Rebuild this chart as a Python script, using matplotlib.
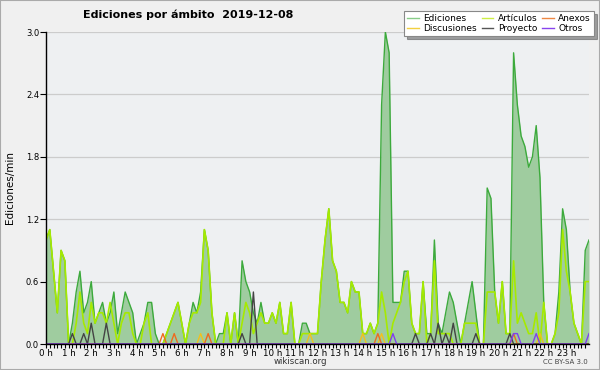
import numpy as np
import matplotlib
matplotlib.use("Agg")
import matplotlib.pyplot as plt
from matplotlib.lines import Line2D
from matplotlib.patches import Rectangle

# valores cada 10 minutos (ediciones/min), de 0 h a 24 h
ediciones = [1.0, 1.1, 0.7, 0.3, 0.9, 0.8, 0.0, 0.2, 0.5, 0.7, 0.3, 0.4,
             0.6, 0.2, 0.3, 0.4, 0.2, 0.3, 0.5, 0.1, 0.3, 0.5, 0.4, 0.3,
             0.0, 0.1, 0.2, 0.4, 0.4, 0.1, 0.0, 0.0, 0.1, 0.2, 0.3, 0.4,
             0.2, 0.0, 0.2, 0.4, 0.3, 0.5, 1.1, 0.9, 0.3, 0.0, 0.1, 0.1,
             0.3, 0.0, 0.3, 0.0, 0.8, 0.6, 0.5, 0.3, 0.2, 0.4, 0.2, 0.2,
             0.3, 0.2, 0.4, 0.1, 0.1, 0.4, 0.0, 0.0, 0.2, 0.2, 0.1, 0.1,
             0.1, 0.6, 1.0, 1.3, 0.8, 0.7, 0.4, 0.4, 0.3, 0.6, 0.5, 0.5,
             0.1, 0.1, 0.2, 0.1, 0.2, 2.3, 3.0, 2.8, 0.4, 0.4, 0.4, 0.7,
             0.7, 0.2, 0.1, 0.1, 0.6, 0.1, 0.1, 1.0, 0.2, 0.1, 0.3, 0.5,
             0.4, 0.2, 0.0, 0.2, 0.4, 0.6, 0.3, 0.0, 0.0, 1.5, 1.4, 0.5,
             0.2, 0.6, 0.1, 0.1, 2.8, 2.3, 2.0, 1.9, 1.7, 1.8, 2.1, 1.6,
             0.4, 0.0, 0.0, 0.1, 0.5, 1.3, 1.1, 0.5, 0.2, 0.1, 0.0, 0.9,
             1.0]
articulos = [1.0, 1.1, 0.7, 0.3, 0.9, 0.8, 0.0, 0.0, 0.2, 0.5, 0.2, 0.1,
             0.4, 0.2, 0.3, 0.3, 0.2, 0.4, 0.2, 0.0, 0.2, 0.3, 0.3, 0.1,
             0.0, 0.0, 0.2, 0.3, 0.0, 0.0, 0.0, 0.0, 0.1, 0.2, 0.3, 0.4,
             0.2, 0.0, 0.2, 0.3, 0.3, 0.4, 1.1, 0.9, 0.3, 0.0, 0.0, 0.0,
             0.3, 0.0, 0.3, 0.0, 0.2, 0.4, 0.3, 0.1, 0.2, 0.3, 0.2, 0.2,
             0.3, 0.2, 0.4, 0.1, 0.1, 0.4, 0.0, 0.0, 0.1, 0.1, 0.1, 0.1,
             0.1, 0.6, 1.0, 1.3, 0.8, 0.7, 0.4, 0.4, 0.3, 0.6, 0.5, 0.5,
             0.1, 0.1, 0.2, 0.1, 0.2, 0.5, 0.3, 0.0, 0.2, 0.3, 0.4, 0.6,
             0.7, 0.2, 0.1, 0.1, 0.6, 0.0, 0.1, 0.8, 0.1, 0.1, 0.1, 0.1,
             0.0, 0.0, 0.0, 0.2, 0.2, 0.2, 0.2, 0.0, 0.0, 0.5, 0.5, 0.5,
             0.2, 0.6, 0.1, 0.1, 0.8, 0.2, 0.3, 0.2, 0.1, 0.1, 0.3, 0.0,
             0.4, 0.0, 0.0, 0.1, 0.3, 1.1, 0.7, 0.5, 0.2, 0.1, 0.0, 0.6,
             0.6]

# series pequeñas: (intervalo, valor), el resto es cero
discusiones = [(41, 0.1), (70, 0.1), (84, 0.1), (89, 0.1), (131, 0.1)]
anexos = [(31, 0.1), (34, 0.1), (43, 0.1), (88, 0.1), (124, 0.1)]
proyecto = [(7, 0.1), (10, 0.1), (12, 0.2), (16, 0.2), (52, 0.1), (55, 0.5),
            (98, 0.1), (102, 0.1), (104, 0.2), (106, 0.1), (108, 0.2),
            (114, 0.1), (123, 0.1)]
otros = [(92, 0.1), (124, 0.1), (125, 0.1), (130, 0.1), (144, 0.1)]

horas = [f"{h} h" for h in range(24)]

n = len(ediciones)
x = np.arange(n) / 6.0


def serie(pares):
    s = np.zeros(n)
    for i, v in pares:
        s[i] = v
    return s


fig = plt.figure(figsize=(6, 3.7), dpi=100, facecolor="#f0f0f0")
ax = fig.add_axes([46 / 600, 26 / 370, 543 / 600, 312 / 370])
ax.set_facecolor("#eef0f2")

ax.fill_between(x, ediciones, color="#9fcc9f", lw=0, zorder=2)
ax.plot(x, ediciones, color="#3caa3c", lw=1.0, zorder=3)
ax.plot(x, articulos, color="#a6ea00", lw=1.2, zorder=4)
ax.plot(x, serie(discusiones), color="#f2c01e", lw=1.0, zorder=5)
ax.plot(x, serie(anexos), color="#ee6a1e", lw=1.0, zorder=5)
ax.plot(x, serie(proyecto), color="#444444", lw=1.0, zorder=5)
ax.plot(x, serie(otros), color="#8040ee", lw=1.0, zorder=5)

ax.set_xlim(0, 24)
ax.set_ylim(0, 3.0)
ax.set_yticks(np.arange(0, 3.01, 0.6))
ax.set_yticklabels([f"{v:.1f}" for v in np.arange(0, 3.01, 0.6)], fontsize=6)
ax.yaxis.grid(True, color="#cccccc", lw=0.9, zorder=1)
ax.set_axisbelow(True)
ax.set_xticks(range(24))
ax.set_xticklabels(horas, fontsize=6.3)
ax.set_xticks(np.arange(0, 24, 1 / 6), minor=True)
ax.tick_params(axis="x", which="both", direction="out", length=3, width=0.8, pad=0.5)
ax.tick_params(axis="y", direction="out", length=4, width=0.8, pad=1)
for s in ["top", "right"]:
    ax.spines[s].set_visible(False)
for s in ["left", "bottom"]:
    ax.spines[s].set_linewidth(1.0)
    ax.spines[s].set_zorder(6)
ax.set_ylabel("Ediciones/min", fontsize=7.5, labelpad=8)

fig.text(188 / 600, 1 - 15 / 370, "Ediciones por ámbito  2019-12-08",
         ha="center", va="center", fontsize=8, fontweight="bold")

handles = [
    Line2D([], [], color="#88cc88", lw=1),
    Line2D([], [], color="#f2d040", lw=1),
    Line2D([], [], color="#ccee44", lw=1),
    Line2D([], [], color="#555555", lw=1),
    Line2D([], [], color="#ee8844", lw=1),
    Line2D([], [], color="#8844ee", lw=1),
]
labels = ["Ediciones", "Discusiones", "Artículos", "Proyecto", "Anexos", "Otros"]
leg = fig.legend(handles, labels, ncol=3, loc="upper right",
                 bbox_to_anchor=(594 / 600, 1 - 11 / 370), fontsize=6.5,
                 frameon=True, fancybox=False, shadow=True, borderpad=0.35,
                 handlelength=1.3, handletextpad=0.5, columnspacing=0.5,
                 labelspacing=0.1, borderaxespad=0)
leg.get_frame().set_edgecolor("#888888")
leg.get_frame().set_linewidth(0.8)

fig.text(300 / 600, 1 - 362 / 370, "wikiscan.org", ha="center", va="center",
         fontsize=6.2, color="#333333")
fig.text(588 / 600, 1 - 362 / 370, "CC BY-SA 3.0", ha="right", va="center",
         fontsize=5, color="#444444")

fig.patches.append(Rectangle((0, 0), 1, 1, transform=fig.transFigure,
                             fill=False, edgecolor="#aaaaaa", lw=1.5))

fig.savefig("out.png", dpi=100, facecolor=fig.get_facecolor())
